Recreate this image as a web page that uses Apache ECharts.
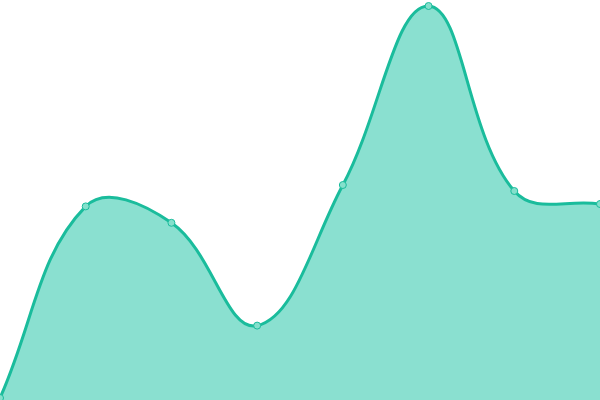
<!DOCTYPE html>
<html>
<head>
<meta charset="utf-8">
<script src="https://cdn.jsdelivr.net/npm/echarts@6/dist/echarts.min.js"></script>
<style>
	html, body { margin: 0; padding: 0; background: #fff; }
	#main { width: 600px; height: 400px; }
</style>
</head>
<body>
<div id="main"></div>
<script>
	var categories = ['1', '2', '3', '4', '5', '6', '7', '8'];
	var values = [0.5, 48.4, 44.3, 18.6, 53.75, 98.5, 52.25, 49];

	var tension = 0.4;

	// cardinal spline through the points (control points kept inside the grid)
	function curvePath(pts, box) {
		var clampX = function (v) { return Math.max(box.x, Math.min(box.x + box.width, v)); };
		var clampY = function (v) { return Math.max(box.y, Math.min(box.y + box.height, v)); };
		var cps = pts.map(function (p, i) {
			var prev = pts[i - 1] || p;
			var next = pts[i + 1] || p;
			var d01 = Math.hypot(p[0] - prev[0], p[1] - prev[1]);
			var d12 = Math.hypot(next[0] - p[0], next[1] - p[1]);
			var s01 = d01 / (d01 + d12) || 0;
			var s12 = d12 / (d01 + d12) || 0;
			var fa = tension * s01, fb = tension * s12;
			return {
				before: [clampX(p[0] - fa * (next[0] - prev[0])), clampY(p[1] - fa * (next[1] - prev[1]))],
				after: [clampX(p[0] + fb * (next[0] - prev[0])), clampY(p[1] + fb * (next[1] - prev[1]))]
			};
		});
		var d = 'M' + pts[0][0] + ' ' + pts[0][1];
		for (var i = 1; i < pts.length; i++) {
			var a = cps[i - 1].after, b = cps[i].before;
			d += ' C' + a[0] + ' ' + a[1] + ' ' + b[0] + ' ' + b[1] + ' ' + pts[i][0] + ' ' + pts[i][1];
		}
		return d;
	}

	var myChart = echarts.init(document.getElementById('main'));
	var option = {
		animation: false,
		grid: {
			left: 0,
			right: 0,
			top: 0,
			bottom: 0
		},
		xAxis: {
			type: 'category',
			boundaryGap: false,
			show: false,
			data: categories
		},
		yAxis: {
			type: 'value',
			min: 0,
			max: 100,
			show: false
		},
		series: [{
			type: 'custom',
			data: [0],
			renderItem: function (params, api) {
				var pts = values.map(function (v, i) { return api.coord([i, v]); });
				var box = params.coordSys;
				var line = curvePath(pts, box);
				var first = api.coord([0, 0]);
				var last = api.coord([values.length - 1, 0]);
				var area = line + ' L' + last[0] + ' ' + last[1] + ' L' + first[0] + ' ' + first[1] + ' Z';
				return {
					type: 'group',
					children: [{
						type: 'path',
						shape: { pathData: area },
						style: { fill: '#8ae0d0', stroke: null }
					}, {
						type: 'path',
						shape: { pathData: line },
						style: { fill: null, stroke: '#1abc9c', lineWidth: 3 }
					}]
				};
			}
		}, {
			type: 'line',
			symbol: 'circle',
			symbolSize: 7,
			lineStyle: { opacity: 0 },
			itemStyle: {
				color: '#84e0cc',
				borderColor: '#1abc9c',
				borderWidth: 1
			},
			z: 5,
			data: values
		}]
	};
	myChart.setOption(option);
</script>
</body>
</html>
